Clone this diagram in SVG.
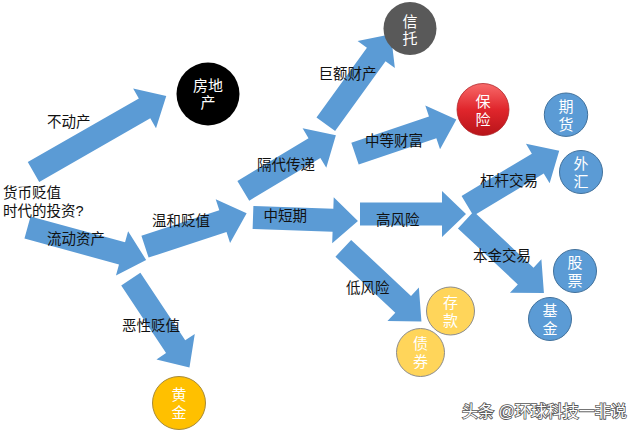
<svg xmlns="http://www.w3.org/2000/svg" width="640" height="433" viewBox="0 0 640 433" xml:lang="zh-CN" lang="zh-CN">
<defs>
<linearGradient id="red" x1="0" y1="0" x2="0" y2="1">
<stop offset="0" stop-color="#F86A6A"/>
<stop offset="0.5" stop-color="#E0262C"/>
<stop offset="1" stop-color="#B81419"/>
</linearGradient>
<style>
.arr{fill:#5B9BD5;}
.lbl{font-family:"Liberation Sans","Noto Sans CJK SC",sans-serif;font-size:14.5px;fill:#111;}
.ct{font-family:"Liberation Sans","Noto Sans CJK SC",sans-serif;font-size:15px;fill:#fff;text-anchor:middle;}
.blue{fill:#5B9BD5;stroke:#41719C;stroke-width:1;}
.yel{fill:#FFD55A;stroke:#8C8C8C;stroke-width:1;}
.wm{font-family:"Liberation Sans","Noto Sans CJK SC",sans-serif;font-size:16px;fill:#fff;stroke:#555;stroke-width:1.6;paint-order:stroke;}
</style>
</defs>
<rect width="640" height="433" fill="#fff"/>
<g id="connectors">
<polygon class="arr" transform="translate(33.5,172) rotate(-29.8)" points="0,-11.5 128,-11.5 128,-23 153,0 128,23 128,11.5 0,11.5"/>
<polygon class="arr" transform="translate(27.5,227.5) rotate(15.3)" points="0,-11.5 98,-11.5 98,-23 123,0 98,23 98,11.5 0,11.5"/>
<polygon class="arr" transform="translate(145,246.7) rotate(-18.2)" points="0,-11.5 82,-11.5 82,-23 107,0 82,23 82,11.5 0,11.5"/>
<polygon class="arr" transform="translate(130.8,279.2) rotate(56.4)" points="0,-11.5 81,-11.5 81,-23 106,0 81,23 81,11.5 0,11.5"/>
<polygon class="arr" transform="translate(243.3,190.8) rotate(-31)" points="0,-11.5 83,-11.5 83,-23 108,0 83,23 83,11.5 0,11.5"/>
<polygon class="arr" transform="translate(325.8,124.2) rotate(-54.1)" points="0,-11.5 86,-11.5 86,-23 111,0 86,23 86,11.5 0,11.5"/>
<polygon class="arr" transform="translate(355,153.7) rotate(-18.7)" points="0,-11.5 82,-11.5 82,-23 107,0 82,23 82,11.5 0,11.5"/>
<polygon class="arr" transform="translate(253,217.5) rotate(1.9)" points="0,-11.5 80,-11.5 80,-23 105,0 80,23 80,11.5 0,11.5"/>
<polygon class="arr" transform="translate(360,214) rotate(0)" points="0,-11.5 82,-11.5 82,-23 106,0 82,23 82,11.5 0,11.5"/>
<polygon class="arr" transform="translate(467.5,205.8) rotate(-31)" points="0,-11.5 82,-11.5 82,-23 107,0 82,23 82,11.5 0,11.5"/>
<polygon class="arr" transform="translate(465.8,220) rotate(43.1)" points="0,-11.5 82,-11.5 82,-23 107,0 82,23 82,11.5 0,11.5"/>
<polygon class="arr" transform="translate(343.3,248.3) rotate(43.1)" points="0,-11.5 82,-11.5 82,-23 107,0 82,23 82,11.5 0,11.5"/>
</g>
<g id="labels">
<text class="lbl" x="47" y="126.5">不动产</text>
<text class="lbl" x="3" y="198">货币贬值<tspan x="3" dy="17.5">时代的投资?</tspan></text>
<text class="lbl" x="47" y="243.5">流动资产</text>
<text class="lbl" x="152" y="226">温和贬值</text>
<text class="lbl" x="122" y="331">恶性贬值</text>
<text class="lbl" x="257" y="169.5">隔代传递</text>
<text class="lbl" x="263.5" y="221">中短期</text>
<text class="lbl" x="318.5" y="79">巨额财产</text>
<text class="lbl" x="365" y="146">中等财富</text>
<text class="lbl" x="376" y="224.5">高风险</text>
<text class="lbl" x="480" y="186">杠杆交易</text>
<text class="lbl" x="473" y="261">本金交易</text>
<text class="lbl" x="346" y="292.5">低风险</text>
</g>
<g id="n-fangdichan"><circle cx="208" cy="94" r="31.5" fill="#000"/><text class="ct" x="208" y="90.5">房地<tspan x="208" dy="17">产</tspan></text></g>
<g id="n-xintuo"><circle cx="410" cy="28.5" r="26.5" fill="#595959"/><text class="ct" x="410" y="26.5">信<tspan x="410" dy="17">托</tspan></text></g>
<g id="n-baoxian"><circle cx="483" cy="109.5" r="26" fill="url(#red)" stroke="#B0262A" stroke-width="0.8"/><text class="ct" x="483" y="107">保<tspan x="483" dy="17.5">险</tspan></text></g>
<g id="n-qihuo"><circle class="blue" cx="566" cy="114.7" r="21.7"/><text class="ct" x="566" y="111.5">期<tspan x="566" dy="18">货</tspan></text></g>
<g id="n-waihui"><circle class="blue" cx="581" cy="172" r="21.5"/><text class="ct" x="581" y="168.5">外<tspan x="581" dy="18">汇</tspan></text></g>
<g id="n-gupiao"><circle class="blue" cx="575" cy="271" r="21.5"/><text class="ct" x="575" y="267.5">股<tspan x="575" dy="18">票</tspan></text></g>
<g id="n-jijin"><circle class="blue" cx="550" cy="319" r="21.5"/><text class="ct" x="550" y="315.5">基<tspan x="550" dy="18">金</tspan></text></g>
<g id="n-cunkuan"><circle class="yel" cx="450.5" cy="311" r="24"/><text class="ct" x="450.5" y="307.5">存<tspan x="450.5" dy="18">款</tspan></text></g>
<g id="n-zhaiquan"><circle class="yel" cx="420.5" cy="352.5" r="24"/><text class="ct" x="420.5" y="349">债<tspan x="420.5" dy="18">券</tspan></text></g>
<g id="n-huangjin"><circle cx="179" cy="403" r="26.5" fill="#FFC000" stroke="#A68A3A" stroke-width="1"/><text class="ct" x="179" y="399.5">黄<tspan x="179" dy="18">金</tspan></text></g>
<text class="wm" x="462" y="416.5">头条 @环球科技一非说</text>
</svg>
